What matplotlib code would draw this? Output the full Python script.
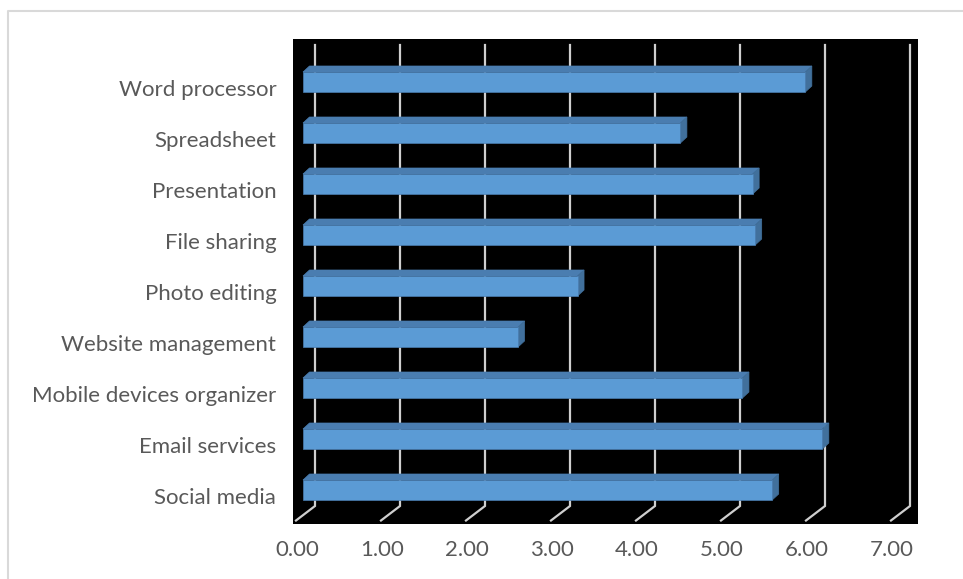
import numpy as np
import matplotlib.pyplot as plt
from matplotlib.patches import Polygon, Rectangle
from matplotlib.lines import Line2D

# data (bottom to top)
categories = ['Social media', 'Email services', 'Mobile devices organizer',
              'Website management', 'Photo editing', 'File sharing',
              'Presentation', 'Spreadsheet', 'Word processor']
values = [5.52, 6.11, 5.17, 2.53, 3.23, 5.32, 5.29, 4.44, 5.91]
ticks = [0, 1, 2, 3, 4, 5, 6, 7]

W, H = 963, 579
PX = 1 / 85.0   # one pixel in x data units
PY = 1 / 51.0   # one pixel in y data units

FRONT = '#5b9bd5'
TOP = '#4a7db0'
SIDE = '#41709c'
GRID = '#cfcfcf'
TEXT = '#595959'

plt.rcParams['font.family'] = ['Lato', 'DejaVu Sans']

fig = plt.figure(figsize=(W / 100, H / 100), dpi=100)
ax = fig.add_axes([293 / W, 1 - 524 / H, 625 / W, 485 / H])
ax.set_facecolor('black')
ax.set_xlim(-10 * PX, 615 * PX)
ax.set_ylim(-34 * PY, 451 * PY)
for s in ax.spines.values():
    s.set_visible(False)

# gridlines: back wall vertical + floor diagonal
y_top = 445 * PY
y_bend = -16 * PY
y_front = -30.5 * PY
for v in ticks:
    ax.add_line(Line2D([v + 12 * PX, v + 12 * PX, v - 7 * PX],
                       [y_top, y_bend, y_front],
                       color=GRID, lw=1.6, zorder=1,
                       solid_joinstyle='miter'))

# 3d-looking bars
h = 20 * PY
dx = 6.5 * PX
dy = 6 * PY
for i, v in enumerate(values):
    y0 = i - h / 2
    y1 = i + h / 2
    ax.add_patch(Polygon([(0, y1), (v, y1), (v + dx, y1 + dy), (dx, y1 + dy)],
                         closed=True, facecolor=TOP, edgecolor=TOP, lw=0.5, zorder=2))
    ax.add_patch(Polygon([(v, y0), (v, y1), (v + dx, y1 + dy), (v + dx, y0 + dy)],
                         closed=True, facecolor=SIDE, edgecolor=SIDE, lw=0.5, zorder=2))
    ax.add_patch(Rectangle((0, y0), v, h, facecolor=FRONT, edgecolor=TOP,
                           lw=0.5, zorder=3))

ax.set_yticks([i - 6 * PY for i in range(len(categories))])
ax.set_yticklabels(categories)
ax.set_xticks([v - 6 * PX for v in ticks])
ax.set_xticklabels(['%.2f' % v for v in ticks])
ax.tick_params(axis='both', length=0, labelsize=16, labelcolor=TEXT)
ax.tick_params(axis='y', pad=12)
ax.tick_params(axis='x', pad=11.5)

# chart border
fig.add_artist(Line2D([8 / W, 8 / W, 1], [0, 1 - 11 / H, 1 - 11 / H],
                      transform=fig.transFigure, color='#d9d9d9', lw=1.5))

fig.savefig('out.png', dpi=100, facecolor='white')
